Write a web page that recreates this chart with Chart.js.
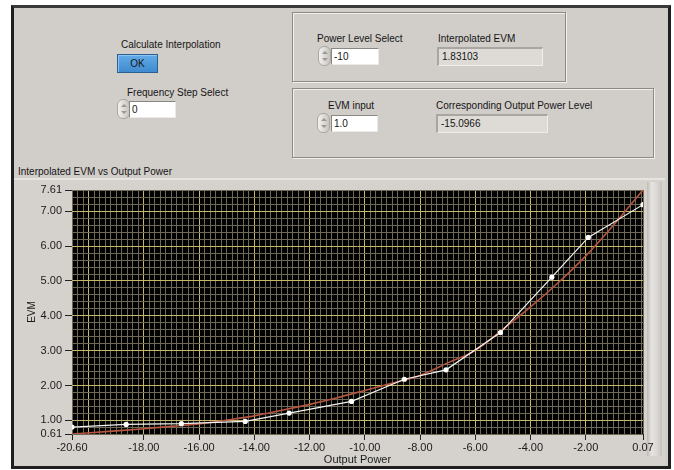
<!DOCTYPE html>
<html>
<head>
<meta charset="utf-8">
<script src="https://cdn.jsdelivr.net/npm/chart.js@4"></script>
<style>
body { margin: 0; background: #fff; font-family: "Liberation Sans", Arial, sans-serif; font-size: 10px; color: #151515; }
.abs { position: absolute; }
#panel { left: 11px; top: 5px; width: 654px; height: 458px; border: 3px solid #1f1f1f; border-top-color: #3a3a3a; background: #d1cdc9; }
#pane { left: 14px; top: 178px; width: 651px; height: 285px; background: #d5d2ce; border-top: 2px solid #e6e4e1; }
#strip { left: 647px; top: 182px; width: 15px; height: 274px; background: linear-gradient(to right, #bdb9b4, #e6e4e1 30%, #d9d6d2 70%, #c4c1bc); }
.lbl { white-space: nowrap; line-height: 13px; }
.box { border: 1px solid #8e8b86; box-shadow: inset 1px 1px 0 #f2f0ee, 1px 1px 0 #f2f0ee; }
.ok { left: 117px; top: 54px; width: 39px; height: 17px; background: linear-gradient(#63abe8, #3f8bd0); border: 1px solid #2b5f92; box-shadow: inset 1px 1px 0 #8cc4f2; line-height: 18px; text-align: center; font-size: 10px; }
.spin { width: 11px; height: 18px; border-radius: 6px; background: linear-gradient(to right, #f3f2f0, #c7c4bf); border: 1px solid #aaa7a2; }
.spin::before, .spin::after { content: ""; position: absolute; left: 3px; border-left: 3px solid transparent; border-right: 3px solid transparent; }
.spin::before { top: 4px; border-bottom: 3px solid #9c9994; }
.spin::after { top: 11px; border-top: 3px solid #9c9994; }
.inp { background: #fff; border-top: 1px solid #8a8782; border-left: 1px solid #8a8782; border-right: 1px solid #eceae7; border-bottom: 1px solid #eceae7; line-height: 15px; padding-left: 2px; }
.ind { background: #dedbd7; border-top: 2px solid #a9a6a1; border-left: 2px solid #a9a6a1; border-right: 1px solid #f0eeec; border-bottom: 1px solid #f0eeec; line-height: 16px; padding-left: 3px; }
#wrap { left: 14px; top: 180px; width: 648px; height: 288px; }
</style>
</head>
<body>
<div id="panel" class="abs"></div>
<div id="pane" class="abs"></div>
<div id="strip" class="abs"></div>

<div class="abs lbl" style="left:121px;top:38px">Calculate Interpolation</div>
<div class="abs ok">OK</div>
<div class="abs lbl" style="left:127px;top:86px">Frequency Step Select</div>
<div class="abs spin" style="left:117px;top:99px"></div>
<div class="abs inp" style="left:129px;top:101px;width:43px;height:15px">0</div>

<div class="abs box" style="left:292px;top:12px;width:272px;height:68px"></div>
<div class="abs lbl" style="left:317px;top:32px">Power Level Select</div>
<div class="abs spin" style="left:318px;top:46px"></div>
<div class="abs inp" style="left:331px;top:48px;width:44px;height:15px">-10</div>
<div class="abs lbl" style="left:438px;top:32px">Interpolated EVM</div>
<div class="abs ind" style="left:437px;top:47px;width:100px;height:16px">1.83103</div>

<div class="abs box" style="left:292px;top:88px;width:360px;height:68px"></div>
<div class="abs lbl" style="left:328px;top:99px">EVM input</div>
<div class="abs spin" style="left:317px;top:113px"></div>
<div class="abs inp" style="left:331px;top:115px;width:43px;height:15px">1.0</div>
<div class="abs lbl" style="left:436px;top:99px">Corresponding Output Power Level</div>
<div class="abs ind" style="left:436px;top:114px;width:106px;height:16px">-15.0966</div>

<div class="abs lbl" style="left:18px;top:165px">Interpolated EVM vs Output Power</div>
<div id="wrap" class="abs"><canvas id="evmChart"></canvas></div>

<script>
// tick labels shown on the axes (first/last are the axis limits)
const xTickLabels = [-20.6, -18, -16, -14, -12, -10, -8, -6, -4, -2, 0.07];
const yTickLabels = [0.61, 1, 2, 3, 4, 5, 6, 7, 7.61];

// measured points (white trace)
const measuredPower = [-20.6, -18.64, -16.64, -14.33, -12.74, -10.48, -8.57, -7.06, -5.09, -3.23, -1.91, 0.07];
const measuredEvm   = [0.81, 0.885, 0.905, 0.97, 1.21, 1.545, 2.18, 2.45, 3.52, 5.11, 6.25, 7.19];

// fitted curve (red trace)
const fitPower = [-20.6, -19, -18, -17, -16, -15, -14, -13, -12, -11, -10, -9, -8, -7, -6, -5, -4, -3, -2, -1, 0.07];
const fitEvm   = [0.61, 0.70, 0.76, 0.83, 0.90, 1.01, 1.13, 1.29, 1.46, 1.65, 1.86, 2.07, 2.29, 2.65, 3.01, 3.62, 4.26, 4.95, 5.72, 6.60, 7.61];

const xMin = xTickLabels[0], xMax = xTickLabels[xTickLabels.length - 1];
const yMin = yTickLabels[0], yMax = yTickLabels[yTickLabels.length - 1];

const MAJOR = '#c4b769';
const MINOR = '#6e6a55';

// grid every 0.2 units, plus the axis limits
function gridTicks(min, max) {
    const vals = [min];
    for (let k = Math.ceil(min * 5 + 1e-6); k <= Math.floor(max * 5 - 1e-6); k++) vals.push(k / 5);
    vals.push(max);
    return vals.map(v => ({ value: Math.round(v * 100) / 100 }));
}

const isLabel = (list, v) => list.some(t => Math.abs(t - v) < 1e-6);

const plotBg = {
    id: 'plotBg',
    beforeDraw(chart) {
        const { ctx, chartArea: a } = chart;
        ctx.save();
        ctx.fillStyle = '#000';
        ctx.fillRect(a.left, a.top, a.right - a.left, a.bottom - a.top);
        ctx.restore();
    }
};

const tickFont = { family: '"Liberation Sans", Arial, sans-serif', size: 11 };

new Chart(document.getElementById('evmChart'), {
    type: 'line',
    data: {
        datasets: [{
            label: 'Measured',
            data: measuredPower.map((x, i) => ({ x, y: measuredEvm[i] })),
            borderColor: '#f4f4f4',
            borderWidth: 1.2,
            pointRadius: 2.6,
            pointBackgroundColor: '#ffffff',
            pointBorderWidth: 0,
            tension: 0
        }, {
            label: 'Fit',
            data: fitPower.map((x, i) => ({ x, y: fitEvm[i] })),
            borderColor: '#b5553f',
            borderWidth: 1.6,
            pointRadius: 0,
            cubicInterpolationMode: 'monotone'
        }]
    },
    options: {
        responsive: true,
        maintainAspectRatio: false,
        animation: false,
        layout: { autoPadding: false, padding: { top: 10, right: 19, left: 0, bottom: 0 } },
        plugins: { legend: { display: false }, tooltip: { enabled: false } },
        scales: {
            x: {
                type: 'linear',
                min: xMin,
                max: xMax,
                afterBuildTicks: s => { s.ticks = gridTicks(xMin, xMax); },
                afterFit: s => { s.height = 34; s.paddingLeft = 0; s.paddingRight = 0; },
                border: { display: false },
                grid: {
                    color: c => (Number.isInteger(c.tick.value) && c.tick.value % 2 === 0 && c.tick.value !== 0) ? MAJOR : MINOR,
                    tickColor: c => isLabel(xTickLabels, c.tick.value) ? '#222' : 'rgba(0,0,0,0)',
                    tickLength: 6
                },
                ticks: {
                    autoSkip: false, maxRotation: 0, minRotation: 0, padding: 1,
                    color: '#1a1a1a', font: tickFont,
                    callback: v => isLabel(xTickLabels, v) ? v.toFixed(2) : ''
                },
                title: { display: true, text: 'Output Power', color: '#1a1a1a', font: tickFont, padding: { top: 0, bottom: 1 } }
            },
            y: {
                type: 'linear',
                min: yMin,
                max: yMax,
                afterBuildTicks: s => { s.ticks = gridTicks(yMin, yMax); },
                afterFit: s => { s.width = 58; s.paddingTop = 0; s.paddingBottom = 0; },
                border: { display: false },
                grid: {
                    color: c => (Number.isInteger(c.tick.value)) ? MAJOR : MINOR,
                    tickColor: c => isLabel(yTickLabels, c.tick.value) ? '#222' : 'rgba(0,0,0,0)',
                    tickLength: 7
                },
                ticks: {
                    autoSkip: false, padding: 3,
                    color: '#1a1a1a', font: tickFont,
                    callback: v => isLabel(yTickLabels, v) ? v.toFixed(2) : ''
                },
                title: { display: true, text: 'EVM', color: '#1a1a1a', font: { family: tickFont.family, size: 10 }, padding: { top: 12, bottom: 0 } }
            }
        }
    },
    plugins: [plotBg]
});
</script>
</body>
</html>
